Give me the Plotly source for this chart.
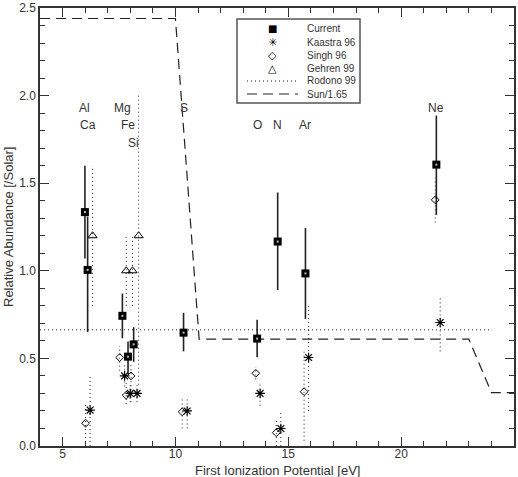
import plotly.graph_objects as go

# ---------------- data ----------------
elements = ["Al", "Ca", "Mg", "Fe", "Si", "S", "O", "N", "Ar", "Ne"]
fip = [5.99, 6.11, 7.65, 7.90, 8.15, 10.36, 13.62, 14.53, 15.76, 21.56]
label_y = [1.93, 1.83, 1.93, 1.83, 1.73, 1.93, 1.83, 1.83, 1.83, 1.93]

cur_y = [1.335, 1.005, 0.743, 0.51, 0.58, 0.647, 0.613, 1.167, 0.985, 1.606]
cur_lo = [1.07, 0.65, 0.615, 0.41, 0.48, 0.54, 0.507, 0.89, 0.725, 1.32]
cur_hi = [1.60, 1.31, 0.87, 0.596, 0.678, 0.76, 0.72, 1.447, 1.245, 1.886]

kaastra_x = [6.22, 7.75, 8.00, 8.30, 10.52, 13.75, 14.67, 15.90, 21.73]
kaastra_y = [0.205, 0.40, 0.30, 0.30, 0.20, 0.30, 0.10, 0.505, 0.705]
kaastra_lo = [0.0, 0.34, 0.25, 0.25, 0.10, 0.23, 0.0, 0.20, 0.54]
kaastra_hi = [0.40, 0.47, 0.35, 0.36, 0.28, 0.35, 0.205, 0.80, 0.853]

singh_x = [6.02, 7.53, 7.82, 8.03, 10.30, 13.56, 14.47, 15.70, 21.51]
singh_y = [0.13, 0.505, 0.29, 0.40, 0.195, 0.415, 0.076, 0.31, 1.405]
singh_lo = [0.0, 0.43, 0.24, 0.25, 0.10, 0.38, 0.0, 0.03, 1.276]
singh_hi = [0.25, 0.57, 0.36, 0.47, 0.28, 0.45, 0.16, 0.55, 1.53]

gehren_x = [6.33, 7.82, 8.10, 8.37]
gehren_y = [1.2, 1.0, 1.0, 1.2]
gehren_lo = [0.8, 0.8, 0.8, 0.35]
gehren_hi = [1.6, 1.2, 1.2, 2.0]

rodono_x = [4.0, 24.0]
rodono_y = [0.663, 0.663]

sun_x = [4.0, 10.0, 11.05, 23.0, 24.0, 25.0]
sun_y = [2.44, 2.44, 0.61, 0.61, 0.305, 0.305]

legend_labels = ["Current", "Kaastra 96", "Singh 96", "Gehren 99", "Rodono 99", "Sun/1.65"]
x_title = "First Ionization Potential [eV]"
y_title = "Relative Abundance [/Solar]"
x_range = [4, 25]
y_range = [0, 2.5]

# ---------------- layout constants ----------------
W, H = 518, 477
ML, MR, MT, MB = 40, 4, 8, 31
PW, PH = W - ML - MR, H - MT - MB
INK = "#222222"
AX = "#333333"
FONT = "Liberation Sans, Arial, sans-serif"
DOT = "1px,3px"


def px2x(px):
    return (px - ML) / PW


def py2y(py):
    return (H - MB - py) / PH


def segs(xs, lo, hi):
    sx, sy = [], []
    for x, a, b in zip(xs, lo, hi):
        sx += [x, x, None]
        sy += [a, b, None]
    return sx, sy


fig = go.Figure()

for xs, lo, hi in [(kaastra_x, kaastra_lo, kaastra_hi),
                   (singh_x, singh_lo, singh_hi),
                   (gehren_x, gehren_lo, gehren_hi)]:
    sx, sy = segs(xs, lo, hi)
    fig.add_trace(go.Scatter(x=sx, y=sy, mode="lines", showlegend=False,
                             line=dict(color=INK, width=1, dash=DOT),
                             hoverinfo="skip"))

fig.add_trace(go.Scatter(x=rodono_x, y=rodono_y, mode="lines", name="Rodono 99",
                         line=dict(color=INK, width=1, dash=DOT)))
fig.add_trace(go.Scatter(x=sun_x, y=sun_y, mode="lines", name="Sun/1.65",
                         line=dict(color=INK, width=1.2, dash="10px,6px")))

fig.add_trace(go.Scatter(
    x=fip, y=cur_y, mode="markers", name="Current",
    marker=dict(symbol="square", size=8, color="black"),
    error_y=dict(type="data", symmetric=False,
                 array=[h - y for h, y in zip(cur_hi, cur_y)],
                 arrayminus=[y - l for l, y in zip(cur_lo, cur_y)],
                 width=0, thickness=1.6, color=INK)))
fig.add_trace(go.Scatter(x=fip, y=cur_y, mode="markers", showlegend=False,
                         marker=dict(symbol="square", size=2, color="#bbbbbb"),
                         hoverinfo="skip"))

fig.add_trace(go.Scatter(x=kaastra_x, y=kaastra_y, mode="markers", name="Kaastra 96",
                         marker=dict(symbol="asterisk-open", size=8, color="black",
                                     line=dict(color="black", width=1.2))))
fig.add_trace(go.Scatter(x=singh_x, y=singh_y, mode="markers", name="Singh 96",
                         marker=dict(symbol="diamond-open", size=6, color="black",
                                     line=dict(color="black", width=1))))
fig.add_trace(go.Scatter(x=gehren_x, y=gehren_y, mode="markers", name="Gehren 99",
                         marker=dict(symbol="triangle-up-open", size=8, color="black",
                                     line=dict(color="black", width=1))))

annotations = []
for el, x, y in zip(elements, fip, label_y):
    annotations.append(dict(x=x, y=y, xref="x", yref="y", text=el, showarrow=False,
                            font=dict(family=FONT, size=12, color=AX),
                            xanchor="center", yanchor="middle"))

annotations.append(dict(x=px2x(277), y=py2y(470), xref="paper", yref="paper",
                        text=x_title, showarrow=False,
                        font=dict(family=FONT, size=13, color=AX),
                        xanchor="center", yanchor="middle"))
annotations.append(dict(x=px2x(8), y=py2y(227), xref="paper", yref="paper",
                        text=y_title, showarrow=False, textangle=-90,
                        font=dict(family=FONT, size=13, color=AX),
                        xanchor="center", yanchor="middle"))

# ---------------- manual legend ----------------
shapes = [dict(type="rect", xref="paper", yref="paper",
               x0=px2x(237), x1=px2x(360), y0=py2y(103), y1=py2y(19),
               line=dict(color="#555555", width=1.5), fillcolor="white", layer="above")]
row0, drow = 29, 13
sym_text = ["■", "✳", "◇", "△", None, None]
sym_size = [10, 11, 11, 11, None, None]
for i, lab in enumerate(legend_labels):
    ry = py2y(row0 + drow * i)
    if sym_text[i] is not None:
        annotations.append(dict(x=px2x(272), y=ry, xref="paper", yref="paper",
                                text=sym_text[i], showarrow=False,
                                font=dict(family="DejaVu Sans", size=sym_size[i], color="black"),
                                xanchor="center", yanchor="middle"))
    annotations.append(dict(x=px2x(305), y=ry, xref="paper", yref="paper", text=lab,
                            showarrow=False, font=dict(family=FONT, size=10, color=AX),
                            xanchor="left", yanchor="middle"))
shapes.append(dict(type="line", xref="paper", yref="paper", x0=px2x(247), x1=px2x(298),
                   y0=py2y(row0 + drow * 4), y1=py2y(row0 + drow * 4),
                   line=dict(color=INK, width=1, dash=DOT), layer="above"))
shapes.append(dict(type="line", xref="paper", yref="paper", x0=px2x(247), x1=px2x(298),
                   y0=py2y(row0 + drow * 5), y1=py2y(row0 + drow * 5),
                   line=dict(color=INK, width=1.2, dash="10px,6px"), layer="above"))

TICK = AX
axis_common = dict(showline=True, linecolor=AX, linewidth=1.5, mirror="allticks",
                   ticks="inside", tickcolor=TICK, tickwidth=1.2, ticklen=9,
                   showgrid=False, zeroline=False, automargin=False,
                   tickfont=dict(family=FONT, size=12, color=AX))

fig.update_layout(
    width=W, height=H,
    margin=dict(l=ML, r=MR, t=MT, b=MB),
    paper_bgcolor="white", plot_bgcolor="white",
    showlegend=False,
    annotations=annotations,
    shapes=shapes,
    xaxis=dict(range=x_range, tickmode="linear", tick0=0, dtick=5, ticklabelstandoff=-4,
               minor=dict(ticks="inside", tickmode="linear", tick0=0, dtick=1,
                          ticklen=5, tickcolor=TICK, tickwidth=1.2),
               **axis_common),
    yaxis=dict(range=y_range, tickmode="linear", tick0=0, dtick=0.5, tickformat=".1f",
               minor=dict(ticks="inside", tickmode="linear", tick0=0, dtick=0.1,
                          ticklen=5, tickcolor=TICK, tickwidth=1.2),
               **axis_common),
)

fig.write_html("out.html")
